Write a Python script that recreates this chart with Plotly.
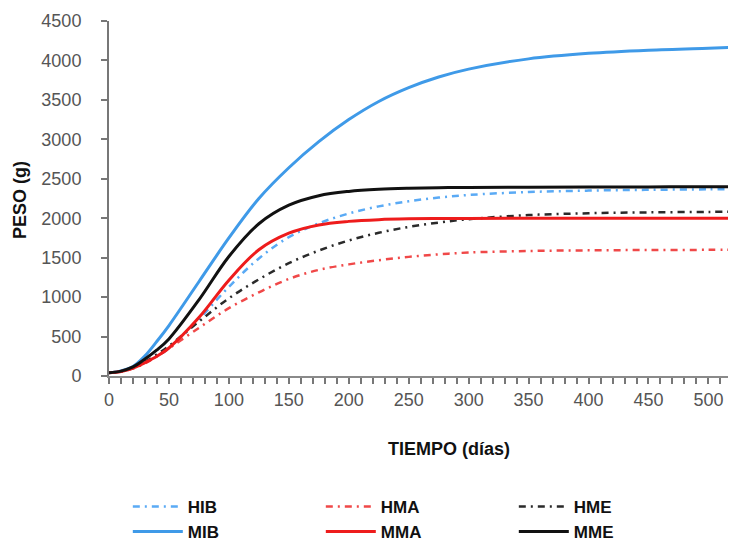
import plotly.graph_objects as go

dias = [0, 10, 20, 30, 40, 50, 75, 100, 125, 150, 175, 200, 225, 250, 275, 300, 350, 400, 450, 500, 523]

HIB = [40, 58, 100, 165, 250, 350, 720, 1130, 1490, 1760, 1935, 2060, 2150, 2215, 2262, 2295, 2332, 2350, 2360, 2366, 2368]
HMA = [40, 56, 95, 160, 250, 350, 610, 860, 1060, 1230, 1345, 1415, 1468, 1510, 1542, 1565, 1585, 1593, 1597, 1599, 1600]
HME = [40, 60, 105, 180, 275, 380, 690, 985, 1225, 1430, 1590, 1718, 1815, 1890, 1945, 1988, 2040, 2063, 2074, 2080, 2082]
MIB = [40, 65, 120, 255, 440, 640, 1195, 1750, 2250, 2640, 2970, 3250, 3480, 3655, 3790, 3890, 4020, 4090, 4130, 4155, 4166]
MMA = [40, 58, 100, 170, 250, 355, 740, 1215, 1600, 1810, 1915, 1960, 1982, 1992, 1996, 1998, 1999, 2000, 2000, 2000, 2000]
MME = [40, 62, 115, 215, 330, 470, 965, 1515, 1930, 2165, 2285, 2340, 2367, 2380, 2387, 2391, 2394, 2396, 2397, 2398, 2398]

x_ticks = [0, 50, 100, 150, 200, 250, 300, 350, 400, 450, 500]
y_ticks = [0, 500, 1000, 1500, 2000, 2500, 3000, 3500, 4000, 4500]

series = [
    ("HIB", HIB, "#5aaaf5", "7px,5px,2px,5px", 2.5),
    ("HMA", HMA, "#f04848", "7px,5px,2px,5px", 2.5),
    ("HME", HME, "#2a2a2a", "7px,5px,2px,5px", 2.5),
    ("MIB", MIB, "#3f9ae8", "solid", 3),
    ("MMA", MMA, "#ee1c1c", "solid", 3),
    ("MME", MME, "#111111", "solid", 3),
]

fig = go.Figure()
for name, vals, color, dash, w in series:
    fig.add_trace(go.Scatter(
        x=dias, y=vals, name=name, mode="lines",
        line=dict(color=color, dash=dash, width=w, shape="spline", smoothing=1.0),
    ))

tickfont = dict(family="Liberation Sans, Arial, sans-serif", size=18, color="#555555")

# page body has an 8px margin; figure is sized so the plot lands where the reference has it
fig.update_layout(
    width=728, height=537,
    paper_bgcolor="white", plot_bgcolor="white",
    margin=dict(l=101, r=0, t=13, b=169, autoexpand=False),
    font=dict(family="Liberation Sans, Arial, sans-serif"),
    showlegend=True,
    legend=dict(
        orientation="h", x=0.03, y=-0.318, xanchor="left", yanchor="top",
        traceorder="normal", entrywidth=128, entrywidthmode="pixels",
        font=dict(family="Liberation Sans, Arial, sans-serif", size=17, color="#111111", weight="bold"),
        itemwidth=50, tracegroupgap=0, bgcolor="rgba(0,0,0,0)",
    ),
    xaxis=dict(
        range=[0, 523], tickvals=x_ticks, ticktext=[str(v) for v in x_ticks],
        showgrid=False, zeroline=False, showline=True, linecolor="#8a8a8a", linewidth=2,
        ticks="outside", ticklen=6, tickwidth=1.5, tickcolor="#777777",
        minor=dict(dtick=10, tick0=0, ticks="outside", ticklen=6, tickwidth=1.5, tickcolor="#777777"),
        tickfont=tickfont, fixedrange=True, automargin=False,
    ),
    yaxis=dict(
        range=[0, 4500], tickvals=y_ticks, ticktext=[str(v) for v in y_ticks],
        showgrid=False, zeroline=False, showline=True, linecolor="#777777", linewidth=2,
        ticks="outside", ticklen=6, tickwidth=1.5, tickcolor="#777777",
        ticklabelstandoff=16,
        tickfont=tickfont, fixedrange=True, automargin=False,
    ),
    annotations=[
        dict(text="<b>TIEMPO (días)</b>", xref="paper", yref="paper",
             x=(449 - 109) / 627, y=-(449 - 376) / 355, xanchor="center", yanchor="middle",
             showarrow=False, font=dict(size=18, color="#111111")),
        dict(text="<b>PESO (g)</b>", xref="paper", yref="paper",
             x=-(109 - 20) / 627, y=(376 - 200) / 355, xanchor="center", yanchor="middle",
             textangle=-90, showarrow=False, font=dict(size=18, color="#111111")),
    ],
)

fig.write_html("out.html")
